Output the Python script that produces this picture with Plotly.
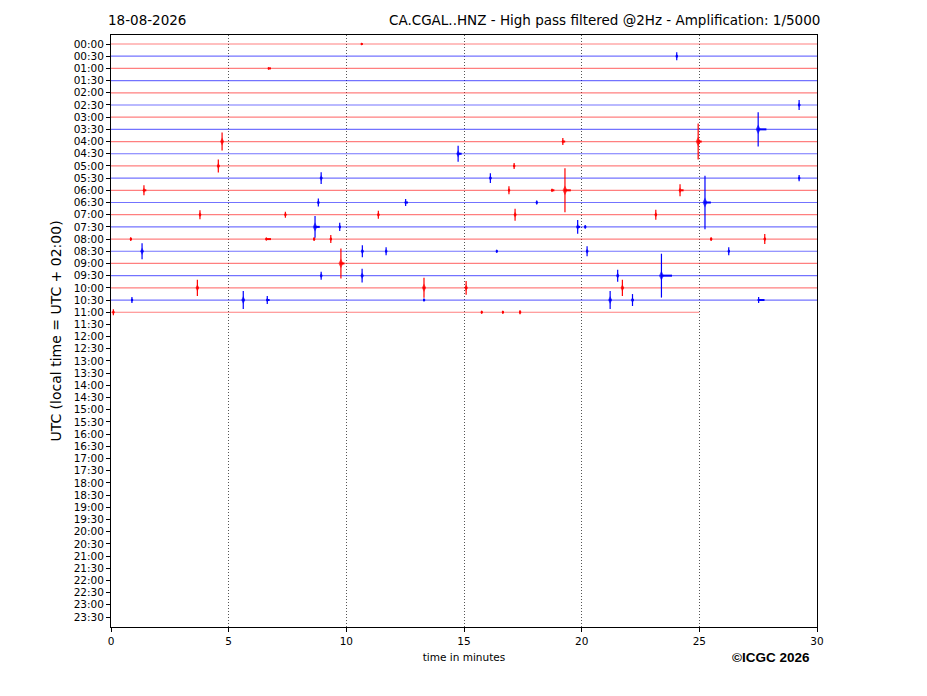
import plotly.graph_objects as go

# ----------------------------------------------------------------------------------------
# data

ROW_LABELS = ['00:00', '00:30', '01:00', '01:30', '02:00', '02:30', '03:00', '03:30',
              '04:00', '04:30', '05:00', '05:30', '06:00', '06:30', '07:00', '07:30',
              '08:00', '08:30', '09:00', '09:30', '10:00', '10:30', '11:00', '11:30',
              '12:00', '12:30', '13:00', '13:30', '14:00', '14:30', '15:00', '15:30',
              '16:00', '16:30', '17:00', '17:30', '18:00', '18:30', '19:00', '19:30',
              '20:00', '20:30', '21:00', '21:30', '22:00', '22:30', '23:00', '23:30']

# minutes recorded in each half-hour row (rows 00:00 .. 11:00)
TRACE_END = [30, 30, 30, 30, 30, 30, 30, 30, 30, 30, 30, 30,
             30, 30, 30, 30, 30, 30, 30, 30, 30, 30, 25]

# events: row index, minute within the row, half amplitude (in row spacings)
EV_ROW = [0, 1, 2, 5, 7, 8, 8, 8, 9, 10, 10,
          11, 11, 11, 12, 12, 12, 12, 12,
          13, 13, 13, 13, 14, 14, 14, 14, 14,
          15, 15, 15, 15, 16, 16, 16, 16, 16, 16,
          17, 17, 17, 17, 17, 17, 18,
          19, 19, 19, 19, 20, 20, 20, 20,
          21, 21, 21, 21, 21, 21, 21, 22, 22, 22, 22]
EV_TIME = [10.65, 24.04, 6.7, 29.24, 27.50, 4.72, 19.20, 24.95, 14.75, 4.56, 17.13,
           8.93, 16.12, 29.24, 1.40, 16.91, 18.74, 19.29, 24.18,
           8.81, 12.52, 18.09, 25.24, 3.78, 7.41, 11.36, 17.17, 23.15,
           8.67, 9.72, 19.83, 20.15, 0.84, 6.60, 8.63, 9.34, 25.50, 27.78,
           1.32, 10.68, 11.69, 16.39, 20.23, 26.25, 9.77,
           8.93, 10.67, 21.53, 23.39, 3.67, 13.30, 15.09, 21.73,
           0.89, 5.62, 6.64, 13.30, 21.21, 22.16, 27.52, 0.10, 15.75, 16.65, 17.38]
EV_AMP = [0.08, 0.33, 0.08, 0.41, 1.40, 0.74, 0.29, 1.48, 0.66, 0.53, 0.25,
          0.49, 0.41, 0.25, 0.41, 0.33, 0.12, 1.80, 0.49,
          0.33, 0.29, 0.16, 2.20, 0.37, 0.25, 0.33, 0.49, 0.41,
          0.90, 0.33, 0.57, 0.16, 0.16, 0.12, 0.16, 0.33, 0.16, 0.41,
          0.66, 0.49, 0.33, 0.12, 0.41, 0.33, 1.23,
          0.33, 0.57, 0.49, 1.80, 0.66, 0.82, 0.57, 0.66,
          0.25, 0.74, 0.33, 0.12, 0.74, 0.49, 0.25, 0.25, 0.12, 0.12, 0.16]
# coda length after the onset, minutes
EV_CODA = [0.05, 0.05, 0.1, 0.05, 0.35, 0.05, 0.1, 0.15, 0.15, 0.05, 0.05,
           0.05, 0.05, 0.05, 0.1, 0.05, 0.1, 0.25, 0.15,
           0.05, 0.1, 0.05, 0.25, 0.05, 0.05, 0.05, 0.05, 0.05,
           0.2, 0.05, 0.1, 0.05, 0.05, 0.2, 0.05, 0.05, 0.05, 0.05,
           0.05, 0.05, 0.05, 0.05, 0.05, 0.05, 0.15,
           0.05, 0.05, 0.05, 0.45, 0.05, 0.05, 0.05, 0.05,
           0.05, 0.05, 0.1, 0.05, 0.05, 0.05, 0.25, 0.05, 0.05, 0.05, 0.05]

RED = 'rgba(255,0,0,0.5)'
BLUE = 'rgba(0,0,255,0.55)'
RED_EV = 'rgb(255,0,0)'
BLUE_EV = 'rgb(0,0,255)'

fig = go.Figure()

# ------ baseline of each half-hour trace
for r, end in enumerate(TRACE_END):
    fig.add_trace(go.Scatter(x=[0, end], y=[r, r], mode='lines',
                             line=dict(color=RED if r % 2 == 0 else BLUE, width=1.2),
                             hoverinfo='skip', showlegend=False))

# ------ events, red on even rows, blue on odd rows
for parity, col in ((0, RED_EV), (1, BLUE_EV)):
    idx = [i for i, r in enumerate(EV_ROW) if r % 2 == parity]
    amps = [EV_AMP[i] for i in idx]
    fig.add_trace(go.Scatter(
        x=[EV_TIME[i] for i in idx], y=[EV_ROW[i] for i in idx], mode='markers',
        marker=dict(symbol='diamond-tall', color=col,
                    size=[2 + 5 * min(a, 1.0) for a in amps], line=dict(width=0)),
        error_y=dict(type='data', array=amps, color=col, thickness=1.2, width=0),
        error_x=dict(type='data', array=[EV_CODA[i] for i in idx],
                     arrayminus=[0.04] * len(idx), color=col, thickness=2, width=0),
        showlegend=False))

tick_font = dict(family='DejaVu Sans', size=10.5, color='black')

# the page puts the figure 8px in from the corner, margins allow for it
fig.update_layout(
    width=927, height=696,
    margin=dict(l=103, r=118, t=27, b=77),
    paper_bgcolor='white', plot_bgcolor='white',
    font=dict(family='DejaVu Sans', color='black'),
    xaxis=dict(range=[0, 30], tickvals=[0, 5, 10, 15, 20, 25, 30], automargin=False,
               ticks='outside', ticklen=4, tickcolor='black', tickfont=tick_font,
               showgrid=True, gridcolor='#555555', griddash='1px,2px', gridwidth=1,
               zeroline=False, showline=True, linecolor='black', linewidth=1, mirror=True,
               title=dict(text='time in minutes', font=dict(size=10.5), standoff=8)),
    yaxis=dict(range=[47.82, -0.74], tickvals=list(range(len(ROW_LABELS))),
               ticktext=ROW_LABELS, ticks='outside', ticklen=4, tickcolor='black',
               tickfont=tick_font, showgrid=False, zeroline=False, automargin=False,
               showline=True, linecolor='black', linewidth=1, mirror=True,
               title=dict(text='UTC (local time = UTC + 02:00)', font=dict(size=14), standoff=8)),
)

fig.add_annotation(xref='paper', yref='paper', x=-0.007, y=1.0, yshift=5,
                   xanchor='left', yanchor='bottom', showarrow=False,
                   text='18-08-2026', font=dict(size=13.5))
fig.add_annotation(xref='paper', yref='paper', x=1.007, y=1.0, yshift=5,
                   xanchor='right', yanchor='bottom', showarrow=False,
                   text='CA.CGAL..HNZ - High pass filtered @2Hz - Amplification: 1/5000',
                   font=dict(size=13.5))
fig.add_annotation(xref='paper', yref='paper', x=0.993, y=0, yshift=-21,
                   xanchor='right', yanchor='top', showarrow=False,
                   text='<b>©ICGC 2026</b>', font=dict(family='Liberation Sans', size=13.5))

fig.write_html('out.html')
